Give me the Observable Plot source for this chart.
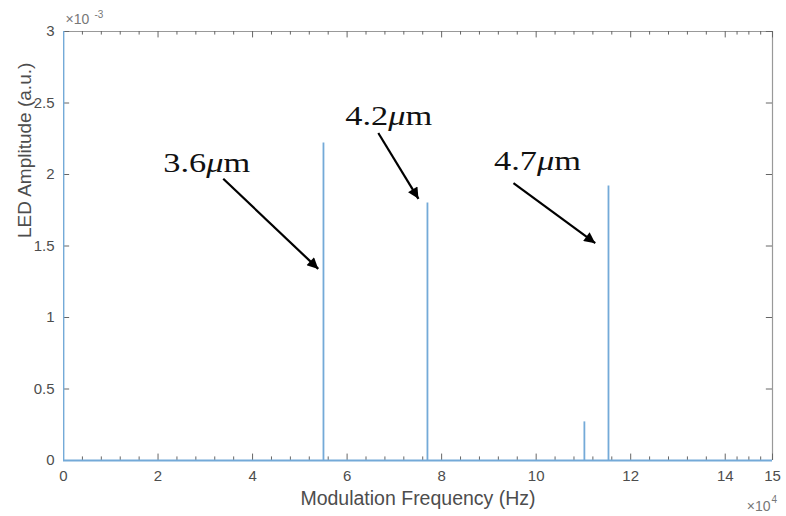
<!DOCTYPE html>
<html><head><meta charset="utf-8">
<script src="https://cdn.jsdelivr.net/npm/d3@7"></script>
<script src="https://cdn.jsdelivr.net/npm/@observablehq/plot@0.6"></script>
<style>body{margin:0;background:#fff;} svg{display:block}</style>
</head><body><div id="chart"></div>
<script>
// Spectrum (frequency in units of 1e4 Hz, amplitude in units of 1e-3 a.u.)
const freqs = [0, 5.50, 7.70, 11.02, 11.53];
const amps  = [3.2, 2.22, 1.80, 0.27, 1.92];

// Axis ticks
const xMajor = [0, 2, 4, 6, 8, 10, 12, 14, 15];
const xMinor = [0.4, 0.8, 1.2, 1.6, 2.4, 2.8, 3.2, 3.6, 4.4, 4.8, 5.2, 5.6, 6.4, 6.8, 7.2, 7.6,
                8.4, 8.8, 9.2, 9.6, 10.4, 10.8, 11.2, 11.6, 12.4, 12.8, 13.2, 13.6, 14.25, 14.5, 14.75];
const yTicks = [0, 0.5, 1, 1.5, 2, 2.5, 3];

// Annotations
const annLabels = ["3.6μm", "4.2μm", "4.7μm"];
const annX = [3.03, 6.88, 10.03];
const annY = [2.08, 2.41, 2.09];
const arrX1 = [3.38, 6.66, 9.52];
const arrY1 = [1.97, 2.29, 1.94];
const arrX2 = [5.39, 7.51, 11.25];
const arrY2 = [1.34, 1.83, 1.52];

const spectrum = freqs.map((f, i) => ({f, a: amps[i]}));
const anns = annLabels.map((t, i) => ({t, x: annX[i], y: annY[i]}));
const arrows = arrX1.map((x1, i) => ({x1, y1: arrY1[i], x2: arrX2[i], y2: arrY2[i]}));

const blue = "#74aad8";
const tickCol = "#666";

const chart = Plot.plot({
  width: 786, height: 516,
  marginLeft: 63, marginRight: 14, marginTop: 31, marginBottom: 56,
  style: {fontFamily: "'Liberation Sans', Arial, sans-serif", background: "#fff", color: "#4d4d4d", overflow: "visible"},
  x: {domain: [0, 15]},
  y: {domain: [0, 3]},
  marks: [
    Plot.axisX(xMajor, {tickSize: 0, tickPadding: 10, fontSize: 15, tickFormat: d => String(d), label: null}),
    Plot.axisY(yTicks, {tickSize: 0, tickPadding: 9, fontSize: 15, tickFormat: d => String(d), label: null}),
    // box
    Plot.ruleY([3], {stroke: "#999", strokeWidth: 1.2}),
    Plot.ruleX([15], {stroke: "#999", strokeWidth: 1.2}),
    // inward ticks
    Plot.ruleX(xMinor, {y1: 0, y2: 0.025, stroke: tickCol}),
    Plot.ruleX(xMajor, {y1: 0, y2: 0.045, stroke: tickCol}),
    Plot.ruleX(xMinor, {y1: 3, y2: 2.975, stroke: tickCol}),
    Plot.ruleX(xMajor, {y1: 3, y2: 2.955, stroke: tickCol}),
    Plot.ruleY(yTicks, {x1: 0, x2: 0.13, stroke: tickCol}),
    Plot.ruleY(yTicks, {x1: 15, x2: 14.87, stroke: tickCol}),
    // data
    Plot.ruleY([0], {stroke: blue, strokeWidth: 1.8}),
    Plot.ruleX(spectrum, {x: "f", y1: 0, y2: "a", stroke: blue, strokeWidth: 1.8, clip: true}),
    // axis titles
    Plot.text(["Modulation Frequency (Hz)"], {frameAnchor: "bottom", dy: 44, fontSize: 19.5, fill: "#4d4d4d"}),
    Plot.text(["LED Amplitude (a.u.)"], {frameAnchor: "left", dx: -39, dy: -8, rotate: -90, fontSize: 19, fill: "#4d4d4d"}),
    // exponents
    Plot.text(["×10"], {frameAnchor: "top-left", dx: 2, dy: -17, lineAnchor: "top", fontSize: 14, fill: "#777"}),
    Plot.text(["-3"], {frameAnchor: "top-left", dx: 31, dy: -21, lineAnchor: "top", fontSize: 10, fill: "#777"}),
    Plot.text(["×10"], {frameAnchor: "bottom-right", dx: -2, dy: 41, lineAnchor: "top", textAnchor: "end", fontSize: 14, fill: "#777"}),
    Plot.text(["4"], {frameAnchor: "bottom-right", dx: -1, dy: 35, lineAnchor: "top", textAnchor: "start", fontSize: 10, fill: "#777"}),
    // annotations
    Plot.link(arrows, {x1: "x1", y1: "y1", x2: "x2", y2: "y2", stroke: "#000", strokeWidth: 2.2}),
    Plot.text(anns, {x: "x", y: "y", text: "t", fontSize: 27, fill: "#111", fontFamily: "'Liberation Serif', 'Times New Roman', serif"})
  ]
});

const svg = d3.select(chart);
svg.append("defs").append("marker")
  .attr("id", "ah").attr("viewBox", "0 0 10 10").attr("refX", 10).attr("refY", 5)
  .attr("markerWidth", 17).attr("markerHeight", 11).attr("markerUnits", "userSpaceOnUse")
  .attr("orient", "auto")
  .append("path").attr("d", "M0,0L10,5L0,10z").attr("fill", "#000");
svg.selectAll('g[aria-label="link"] path').attr("marker-end", "url(#ah)");
svg.selectAll("text").filter(function() { return this.textContent.indexOf("μm") >= 0; }).each(function() {
  const t = this.textContent;
  const num = t.replace("μm", "");
  const sel = d3.select(this);
  sel.text(null);
  sel.append("tspan").text(num);
  sel.append("tspan").attr("font-style", "italic").text("μ");
  sel.append("tspan").text("m");
  sel.attr("textLength", 87).attr("lengthAdjust", "spacingAndGlyphs");
});
document.getElementById("chart").appendChild(chart);
</script>
</body></html>
